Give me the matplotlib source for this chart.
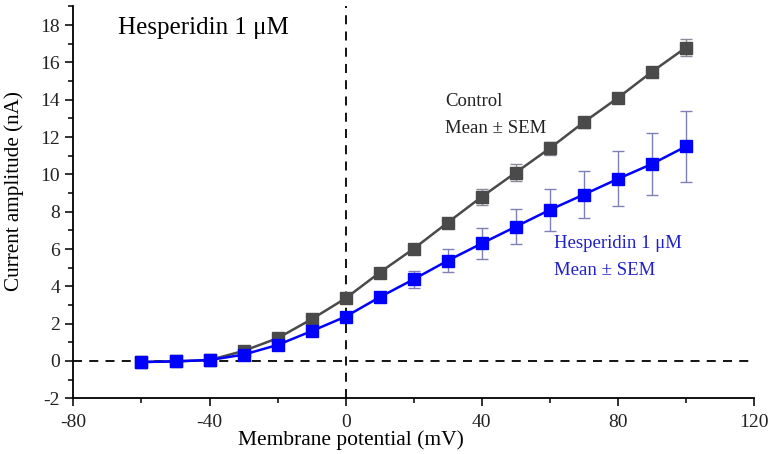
import matplotlib.pyplot as plt
from matplotlib.ticker import MultipleLocator

plt.rcParams['font.family'] = ['Liberation Serif', 'DejaVu Serif']
plt.rcParams['axes.unicode_minus'] = False

voltage = [-60, -50, -40, -30, -20, -10, 0, 10, 20, 30, 40, 50, 60, 70, 80, 90, 100]
control = [-0.05, -0.02, 0.05, 0.54, 1.22, 2.24, 3.36, 4.74, 6.02, 7.42, 8.8, 10.1, 11.4, 12.8, 14.1, 15.5, 16.8]
control_sem = [0.05, 0.05, 0.05, 0.1, 0.12, 0.15, 0.2, 0.15, 0.15, 0.2, 0.43, 0.45, 0.35, 0.3, 0.15, 0.15, 0.45]
hesp = [-0.06, -0.02, 0.05, 0.34, 0.86, 1.6, 2.38, 3.42, 4.38, 5.38, 6.3, 7.2, 8.1, 8.92, 9.76, 10.56, 11.5]
hesp_sem = [0.05, 0.05, 0.05, 0.1, 0.12, 0.15, 0.2, 0.2, 0.45, 0.63, 0.84, 0.95, 1.13, 1.27, 1.47, 1.65, 1.9]

fig = plt.figure(figsize=(7.69, 4.54), dpi=100)
ax = fig.add_axes([0.0955, 0.1227, 0.885, 0.863])

ax.axhline(0, color="k", ls=(0, (5, 4)), lw=1.3, zorder=1)
ax.axvline(0, color="k", ls=(0, (5, 4)), lw=1.3, zorder=1)

ax.errorbar(voltage, control, yerr=control_sem, fmt="none", ecolor="#8a8a9a",
            elinewidth=1, capsize=4, capthick=1, zorder=2)
ax.plot(voltage, control, "s-", color="#4a4a4a", lw=1.8, ms=9, zorder=3)
ax.errorbar(voltage, hesp, yerr=hesp_sem, fmt="none", ecolor="#8080b8",
            elinewidth=1, capsize=4, capthick=1, zorder=4)
ax.plot(voltage, hesp, "s-", color="#0000ff", lw=1.8, ms=9, zorder=5)

ax.text(-67, 17.85, "Hesperidin 1 \u03bcM", fontsize=18, va="center", ha="left")
ax.text(29.2, 13.9, "Control", fontsize=13.5, va="center", color="#222222")
ax.text(29.2, 12.45, "Mean \u00b1 SEM", fontsize=13.5, va="center", color="#222222")
ax.text(61.3, 6.27, "Hesperidin 1 \u03bcM", fontsize=13.5, va="center", color="#2020cc")
ax.text(61.3, 4.84, "Mean \u00b1 SEM", fontsize=13.5, va="center", color="#2020cc")

ax.set_xlim(-80, 120)
ax.set_ylim(-2, 19)
ax.xaxis.set_major_locator(MultipleLocator(40))
ax.xaxis.set_minor_locator(MultipleLocator(20))
ax.yaxis.set_major_locator(MultipleLocator(2))
ax.yaxis.set_minor_locator(MultipleLocator(1))
ax.tick_params(which="major", direction="out", length=6, width=1.3, labelsize=14, colors="#222222")
ax.tick_params(axis="x", which="major", pad=5)
ax.tick_params(which="minor", direction="out", length=3.5, width=1.1)
ax.spines["top"].set_visible(False)
ax.spines["right"].set_visible(False)
ax.spines["left"].set_linewidth(1.3)
ax.spines["bottom"].set_linewidth(1.3)

ax.set_xlabel("Membrane potential (mV)", fontsize=15.5)
ax.set_ylabel("Current amplitude (nA)", fontsize=15.2)
ax.xaxis.set_label_coords(0.408, -0.082)
ax.yaxis.set_label_coords(-0.073, 0.529)

fig.savefig("out.png", dpi=100)
